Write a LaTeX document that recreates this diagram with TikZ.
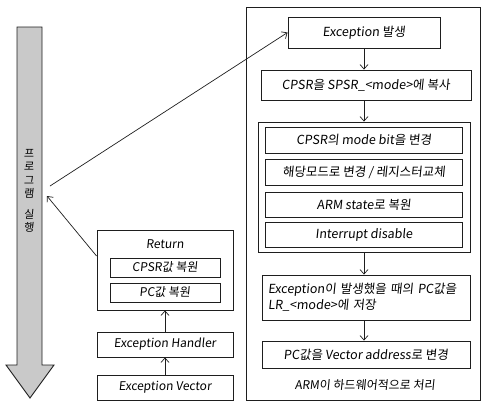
\documentclass[tikz,border=0pt]{standalone}
\usepackage{fontspec}
\setmainfont{Noto Sans CJK KR}[FakeSlant=0.1]
\usetikzlibrary{positioning,arrows.meta}
\definecolor{flowgray}{HTML}{C9C9C9}
\definecolor{inkblack}{HTML}{1E1E1E}

\begin{document}
\begin{tikzpicture}[
   x=1pt, y=-1pt,
   every node/.style={inner sep=0pt},
   block/.style={draw=inkblack, line width=0.9pt, minimum width=210pt, minimum height=30pt,
                 align=center, font=\fontsize{12.5}{16}\selectfont},
   sub/.style={draw=inkblack, line width=0.9pt, minimum width=197pt, minimum height=25pt,
               font=\fontsize{12.5}{15}\selectfont},
   side/.style={draw=inkblack, line width=0.9pt, minimum width=136pt, minimum height=25pt,
                font=\fontsize{12}{14}\selectfont},
   frame/.style={draw=inkblack, line width=0.9pt},
   flow/.style={->, draw=inkblack, line width=0.7pt},
   >={Straight Barb[length=4.5pt,width=8pt]}]
  \useasboundingbox (0,0) rectangle (488,408);

  % program flow arrow
  \filldraw[fill=flowgray, draw=inkblack, line width=0.9pt]
    (17,27) -- (42,27) -- (42,365) -- (54,365) -- (30,398) -- (6,365) -- (17,365) -- cycle;
  \node[align=center, font=\fontsize{11}{13.5}\selectfont] (runtxt) at (29,191)
    {프\\로\\그\\램\\[7pt]실\\행};
  \coordinate (runout) at (50,186);
  \coordinate (runin) at (47,196);

  % hardware side
  \node[frame, minimum width=234pt, minimum height=393pt] (hw) at (363,203.5) {};
  \node[block, minimum width=152pt, minimum height=31pt] (occur) at (364,32.5) {Exception 발생};
  \node[block] (spsr) at (366,85) {CPSR을 SPSR\_<mode>에 복사};
  \node[frame, minimum width=212pt, minimum height=130pt] (mode) at (364,187) {};
  \node[sub, minimum height=26pt] (bit) at (364,140) {CPSR의 mode bit을 변경};
  \node[sub, minimum height=26pt] (bank) at (364,172) {해당모드로 변경 / 레지스터교체};
  \node[sub] (arm) at (364,204.5) {ARM state로 복원};
  \node[sub] (irq) at (364,234.5) {Interrupt disable};
  \node[block, minimum width=208pt, minimum height=45pt, text width=196pt, inner sep=6pt,
        align=left] (lr) at (366,297.5) {Exception이 발생했을 때의 PC값을\\LR\_<mode>에 저장};
  \node[block, minimum width=208pt, minimum height=27pt] (pc) at (366,354.5) {PC값을 Vector address로 변경};
  \node[font=\fontsize{12}{14}\selectfont] (hwlabel) at (365,385) {ARM이 하드웨어적으로 처리};

  \draw[flow] (occur) -- (occur |- spsr.north);
  \draw[flow] (occur |- spsr.south) -- (occur |- mode.north);
  \draw[flow] (occur |- mode.south) -- (occur |- lr.north);
  \draw[flow] (occur |- lr.south) -- (occur |- pc.north);

  % software side
  \node[side, minimum height=80pt] (ret) at (165,270) {};
  \node[font=\fontsize{12}{14}\selectfont] (rettxt) at (165,244) {Return};
  \node[side, minimum width=110pt, minimum height=19pt] (cpsr) at (165,267.5) {CPSR값 복원};
  \node[side, minimum width=110pt, minimum height=19pt] (pcr) at (165,292.5) {PC값 복원};
  \node[side] (handler) at (165,344.5) {Exception Handler};
  \node[side] (vector) at (165,387.5) {Exception Vector};

  \draw[flow] (vector) -- (handler);
  \draw[flow] (handler) -- (ret);

  \draw[flow] (runout) -- (occur.west);
  \draw[flow] ([yshift=14pt]ret.west) -- (runin);
\end{tikzpicture}
\end{document}
